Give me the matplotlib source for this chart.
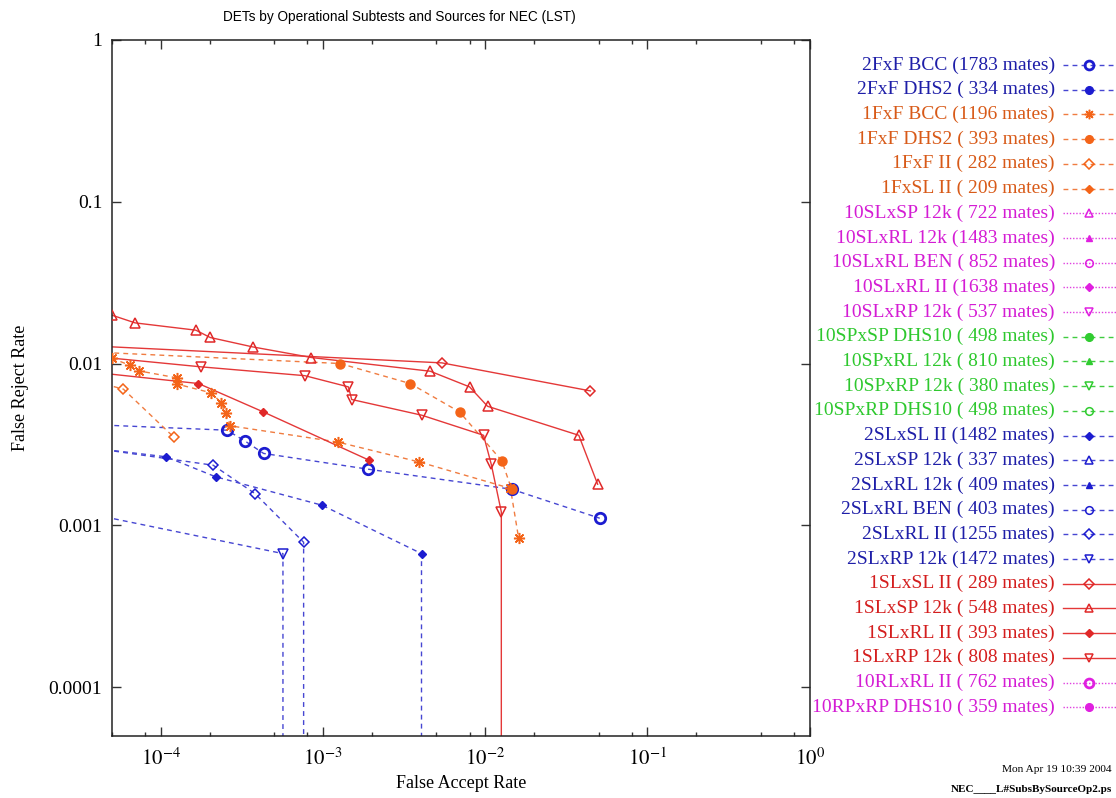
import matplotlib
matplotlib.use("Agg")
import matplotlib.pyplot as plt
from matplotlib.ticker import LogLocator, NullLocator, FixedLocator, FixedFormatter

plt.rcParams['mathtext.fontset'] = 'stix'
SERIF = ['Liberation Serif', 'DejaVu Serif']

# ---------------- data ----------------
BLUE, ORANGE, MAG, GREEN, RED = '#1c1cd0', '#f46418', '#e020e0', '#30cc30', '#e02828'
LBLUE, LORANGE, LMAG, LGREEN, LRED = '#4646d2', '#f07c40', '#e040e0', '#40cc40', '#e43838'
TBLUE, TORANGE, TMAG, TGREEN, TRED = '#1e1ea8', '#d85a18', '#d41cd4', '#2ec82e', '#d41e1e'

labels = [
    "2FxF BCC (1783 mates)", "2FxF DHS2 ( 334 mates)", "1FxF BCC (1196 mates)",
    "1FxF DHS2 ( 393 mates)", "1FxF II ( 282 mates)", "1FxSL II ( 209 mates)",
    "10SLxSP 12k ( 722 mates)", "10SLxRL 12k (1483 mates)", "10SLxRL BEN ( 852 mates)",
    "10SLxRL II (1638 mates)", "10SLxRP 12k ( 537 mates)", "10SPxSP DHS10 ( 498 mates)",
    "10SPxRL 12k ( 810 mates)", "10SPxRP 12k ( 380 mates)", "10SPxRP DHS10 ( 498 mates)",
    "2SLxSL II (1482 mates)", "2SLxSP 12k ( 337 mates)", "2SLxRL 12k ( 409 mates)",
    "2SLxRL BEN ( 403 mates)", "2SLxRL II (1255 mates)", "2SLxRP 12k (1472 mates)",
    "1SLxSL II ( 289 mates)", "1SLxSP 12k ( 548 mates)", "1SLxRL II ( 393 mates)",
    "1SLxRP 12k ( 808 mates)", "10RLxRL II ( 762 mates)", "10RPxRP DHS10 ( 359 mates)",
]
marker_colors = [BLUE, BLUE, ORANGE, ORANGE, ORANGE, ORANGE, MAG, MAG, MAG, MAG, MAG,
                 GREEN, GREEN, GREEN, GREEN, BLUE, BLUE, BLUE, BLUE, BLUE, BLUE,
                 RED, RED, RED, RED, MAG, MAG]
line_colors = [LBLUE, LBLUE, LORANGE, LORANGE, LORANGE, LORANGE, LMAG, LMAG, LMAG, LMAG, LMAG,
               LGREEN, LGREEN, LGREEN, LGREEN, LBLUE, LBLUE, LBLUE, LBLUE, LBLUE, LBLUE,
               LRED, LRED, LRED, LRED, LMAG, LMAG]
text_colors = [TBLUE, TBLUE, TORANGE, TORANGE, TORANGE, TORANGE, TMAG, TMAG, TMAG, TMAG, TMAG,
               TGREEN, TGREEN, TGREEN, TGREEN, TBLUE, TBLUE, TBLUE, TBLUE, TBLUE, TBLUE,
               TRED, TRED, TRED, TRED, TMAG, TMAG]
line_kinds = ['dash', 'dash', 'dash', 'dash', 'dash', 'dash', 'dot', 'dot', 'dot', 'dot', 'dot',
              'dash', 'dash', 'dash', 'dash', 'dash', 'dash', 'dash', 'dash', 'dash', 'dash',
              'solid', 'solid', 'solid', 'solid', 'dot', 'dot']
marker_kinds = ['bold_o', 'fill_o', 'star', 'fill_o', 'open_D', 'fill_D', 'open_^', 'fill_^',
                'open_o', 'fill_D', 'open_v', 'fill_o', 'fill_^', 'open_v', 'open_o',
                'fill_D', 'open_^', 'fill_^', 'open_o', 'open_D', 'open_v',
                'open_D', 'open_^', 'fill_D', 'open_v', 'bold_o', 'fill_o']

# False accept rate (x) and false reject rate (y) for the series drawn in the plot
fa_2FxF_BCC = [4e-5, 2.555e-4, 3.314e-4, 4.30e-4, 1.904e-3, 1.453e-2, 5.08e-2]
fr_2FxF_BCC = [4.18e-3, 3.87e-3, 3.31e-3, 2.78e-3, 2.22e-3, 1.67e-3, 1.105e-3]

fa_1FxF_BCC = [5.0e-5, 6.42e-5, 7.35e-5, 1.266e-4, 1.266e-4, 2.052e-4, 2.356e-4, 2.519e-4,
               2.667e-4, 1.231e-3, 3.93e-3, 1.43e-2, 1.606e-2]
fr_1FxF_BCC = [1.078e-2, 9.76e-3, 9.0e-3, 8.14e-3, 7.45e-3, 6.58e-3, 5.72e-3, 4.95e-3,
               4.12e-3, 3.27e-3, 2.46e-3, 1.69e-3, 8.31e-4]

fa_1FxF_DHS2 = [4e-5, 1.273e-3, 3.443e-3, 6.94e-3, 1.266e-2, 1.453e-2]
fr_1FxF_DHS2 = [1.175e-2, 1.0e-2, 7.52e-3, 5.02e-3, 2.50e-3, 1.67e-3]

fa_1FxF_II = [4e-5, 5.88e-5, 1.208e-4]
fr_1FxF_II = [7.69e-3, 6.94e-3, 3.49e-3]

fa_2SLxSL_II = [4e-5, 1.078e-4, 2.173e-4, 9.86e-4, 4.045e-3, 4.045e-3]
fr_2SLxSL_II = [2.98e-3, 2.65e-3, 1.995e-3, 1.33e-3, 6.68e-4, 1e-6]

fa_2SLxRL_II = [4e-5, 2.103e-4, 3.804e-4, 7.59e-4, 7.59e-4]
fr_2SLxRL_II = [2.98e-3, 2.35e-3, 1.57e-3, 7.85e-4, 1e-6]

fa_2SLxRP_12k = [4e-5, 5.66e-4, 5.66e-4]
fr_2SLxRP_12k = [1.155e-3, 6.68e-4, 1e-6]

fa_1SLxSL_II = [4e-5, 5.40e-3, 4.45e-2]
fr_1SLxSL_II = [1.281e-2, 1.009e-2, 6.77e-3]

fa_1SLxSP_12k = [5.0e-5, 6.94e-5, 1.644e-4, 2.015e-4, 3.676e-4, 8.47e-4, 4.577e-3, 8.0e-3,
                 1.033e-2, 3.77e-2, 4.93e-2]
fr_1SLxSP_12k = [1.989e-2, 1.783e-2, 1.607e-2, 1.448e-2, 1.267e-2, 1.089e-2, 8.96e-3, 7.17e-3,
                 5.44e-3, 3.60e-3, 1.793e-3]

fa_1SLxRL_II = [4e-5, 1.706e-4, 4.28e-4, 1.931e-3]
fr_1SLxRL_II = [8.79e-3, 7.52e-3, 5.02e-3, 2.52e-3]

fa_1SLxRP_12k = [4e-5, 1.781e-4, 7.72e-4, 1.433e-3, 1.502e-3, 4.06e-3, 9.76e-3, 1.089e-2,
                 1.256e-2, 1.256e-2]
fr_1SLxRP_12k = [1.103e-2, 9.53e-3, 8.41e-3, 7.17e-3, 5.99e-3, 4.79e-3, 3.60e-3, 2.38e-3,
                 1.209e-3, 1e-6]

curves = {
    0: (fa_2FxF_BCC, fr_2FxF_BCC),
    2: (fa_1FxF_BCC, fr_1FxF_BCC),
    3: (fa_1FxF_DHS2, fr_1FxF_DHS2),
    4: (fa_1FxF_II, fr_1FxF_II),
    15: (fa_2SLxSL_II, fr_2SLxSL_II),
    19: (fa_2SLxRL_II, fr_2SLxRL_II),
    20: (fa_2SLxRP_12k, fr_2SLxRP_12k),
    21: (fa_1SLxSL_II, fr_1SLxSL_II),
    22: (fa_1SLxSP_12k, fr_1SLxSP_12k),
    23: (fa_1SLxRL_II, fr_1SLxRL_II),
    24: (fa_1SLxRP_12k, fr_1SLxRP_12k),
}

x_ticks = [1e-4, 1e-3, 1e-2, 1e-1, 1e0]
x_ticklabels = [r'$10^{-4}$', r'$10^{-3}$', r'$10^{-2}$', r'$10^{-1}$', r'$10^{0}$']
y_ticks = [1e-4, 1e-3, 1e-2, 1e-1, 1]
y_ticklabels = ['0.0001', '0.001', '0.01', '0.1', '1']

# ---------------- styles ----------------
def ls_of(kind):
    return {'dash': (0, (3.5, 3)), 'dot': (0, (1, 1.3)), 'solid': '-'}[kind]

def marker_kw(kind, color):
    if kind == 'bold_o':
        return dict(marker='o', ms=7.5, mfc='none', mec=color, mew=2.0)
    if kind == 'fill_o':
        return dict(marker='o', ms=6.5, mfc=color, mec=color, mew=1)
    if kind == 'star':
        return dict(marker=(8, 2, 0), ms=8, mec=color, mew=1.1)
    if kind == 'open_D':
        return dict(marker='D', ms=5.5, mfc='none', mec=color, mew=1.1)
    if kind == 'fill_D':
        return dict(marker='D', ms=4.5, mfc=color, mec=color, mew=1)
    if kind == 'open_^':
        return dict(marker='^', ms=7, mfc='none', mec=color, mew=1.1)
    if kind == 'fill_^':
        return dict(marker='^', ms=5.5, mfc=color, mec=color, mew=1)
    if kind == 'open_v':
        return dict(marker='v', ms=7, mfc='none', mec=color, mew=1.1)
    if kind == 'open_o':
        return dict(marker='o', ms=6.5, mfc='none', mec=color, mew=1.1)
    return {}

# ---------------- figure ----------------
W, H = 1116, 798
fig = plt.figure(figsize=(W / 100, H / 100), dpi=100)
L, R, T, B = 112, 809.7, 40, 735.7
ax = fig.add_axes([L / W, 1 - B / H, (R - L) / W, (B - T) / H])

for i, (xs, ys) in curves.items():
    ax.plot(xs, ys, color=line_colors[i], ls=ls_of(line_kinds[i]), lw=1.0, zorder=2)
    ax.plot(xs, ys, ls='none', zorder=3, **marker_kw(marker_kinds[i], marker_colors[i]))

ax.set_xscale('log')
ax.set_yscale('log')
ax.set_xlim(5e-5, 1)
ax.set_ylim(5e-5, 1)

ax.xaxis.set_major_locator(FixedLocator(x_ticks))
ax.xaxis.set_major_formatter(FixedFormatter(x_ticklabels))
ax.xaxis.set_minor_locator(LogLocator(base=10, subs=(2, 5, 8)))
ax.yaxis.set_major_locator(FixedLocator(y_ticks))
ax.yaxis.set_major_formatter(FixedFormatter(y_ticklabels))
ax.yaxis.set_minor_locator(NullLocator())
ax.tick_params(which='both', direction='in', top=True, right=True, color='#333333')
ax.tick_params(which='major', length=6.5, width=1.0)
ax.tick_params(which='minor', length=3, width=1.0)
ax.tick_params(axis='x', which='major', pad=9, labelsize=15)
ax.tick_params(axis='y', which='major', pad=7, labelsize=14)
for lab in ax.get_xticklabels() + ax.get_yticklabels():
    lab.set_family(SERIF)
for sp in ax.spines.values():
    sp.set_linewidth(1.1)
    sp.set_color('#222222')

ax.set_xlabel('False Accept Rate', family=SERIF, fontsize=13, labelpad=4)
ax.set_ylabel('False Reject Rate', family=SERIF, fontsize=13, labelpad=14)
fig.text(399 / W, 1 - 17 / H, 'DETs by Operational Subtests and Sources for NEC (LST)',
         ha='center', va='center', family=['Liberation Sans', 'DejaVu Sans'], fontsize=9.8)

# ---------------- legend (manual, gnuplot style) ----------------
lax = fig.add_axes([0, 0, 1, 1])
lax.set_xlim(0, W)
lax.set_ylim(H, 0)
lax.axis('off')
y0, dy = 65, 24.7
for i, lab in enumerate(labels):
    y = y0 + i * dy
    lax.text(1055, y, lab, ha='right', va='center', color=text_colors[i],
             family=SERIF, fontsize=14)
    lax.plot([1063, 1116], [y, y], color=line_colors[i], ls=ls_of(line_kinds[i]), lw=1.0)
    kw = marker_kw(marker_kinds[i], marker_colors[i])
    if 'ms' in kw:
        kw['ms'] = kw['ms'] * 0.85
    lax.plot([1089], [y], ls='none', **kw)

fig.text(1112 / W, 1 - 770 / H, 'Mon Apr 19 10:39 2004', ha='right', va='center',
         family=SERIF, fontsize=8.2)
fig.text(1112 / W, 1 - 789 / H, 'NEC____L#SubsBySourceOp2.ps', ha='right', va='center',
         family=SERIF, fontsize=8, weight='bold')

fig.savefig('out.png', dpi=100)
